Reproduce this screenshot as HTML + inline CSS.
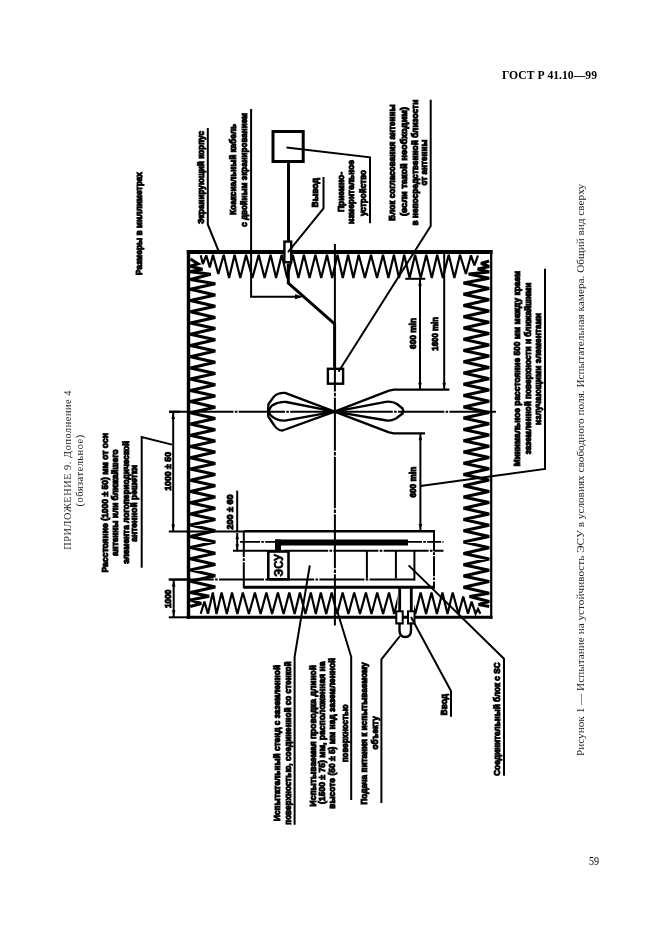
<!DOCTYPE html>
<html><head><meta charset="utf-8"><style>
html,body{margin:0;padding:0;background:#fff;width:661px;height:936px;overflow:hidden;position:relative}
.lb{font-family:"Liberation Sans",sans-serif;font-weight:bold;stroke:#000;stroke-width:0.95}
svg{will-change:transform}
.lr{font-family:"Liberation Sans",sans-serif;font-weight:bold;stroke:#000;stroke-width:0.6}
.sr{font-family:"Liberation Serif",serif;fill:#222}
.sb{font-family:"Liberation Serif",serif;font-weight:bold}
</style></head><body>
<svg width="661" height="936" viewBox="0 0 661 936" style="position:absolute;left:0;top:0">
<g stroke="#000" fill="none" stroke-linecap="butt" stroke-linejoin="miter">
<line x1="186.8" y1="252.0" x2="492.6" y2="252.0" stroke-width="3.8" />
<line x1="188.5" y1="250.2" x2="188.5" y2="618.7" stroke-width="3.4" />
<line x1="491.2" y1="250.2" x2="491.2" y2="618.7" stroke-width="2.2" />
<line x1="186.8" y1="617.2" x2="492.6" y2="617.2" stroke-width="3.0" />
<polyline points="200.7,255.3 202.9,264.0 206.2,255.3 209.8,267.4 213.0,254.8 218.3,274.0 223.7,254.8 229.1,278.0 234.6,254.8 240.3,278.0 246.1,254.8 252.4,278.0 258.7,254.8 264.6,278.0 270.6,254.8 276.1,278.0 281.7,254.8 287.2,278.0 292.8,254.8 298.4,278.0 303.9,254.8 309.6,278.0 315.4,254.8 321.2,278.0 327.0,254.8 332.2,278.0 337.5,254.8 342.8,278.0 348.1,254.8 353.4,278.0 358.7,254.8 364.9,278.0 371.0,254.8 377.0,278.0 383.0,254.8 388.4,278.0 393.9,254.8 399.0,278.0 404.2,254.8 409.6,278.0 415.1,254.8 420.7,278.0 426.3,254.8 431.8,278.0 437.2,254.8 442.9,278.0 448.7,254.8 454.4,278.0 460.0,254.8 465.9,274.0 471.0,255.3 474.4,265.5 478.0,255.5" stroke-width="2.2" fill="none" stroke-linejoin="miter" stroke-miterlimit="3"/>
<polyline points="200.7,613.7 204.4,601.6 208.0,613.7 212.8,592.5 216.5,614.0 221.6,592.5 226.8,614.0 232.0,592.5 237.4,614.0 242.8,592.5 248.9,614.0 254.9,592.5 260.6,614.0 266.4,592.5 272.1,614.0 277.9,592.5 283.6,614.0 289.3,592.5 294.6,614.0 299.9,592.5 305.4,614.0 310.8,592.5 315.8,614.0 320.8,592.5 326.2,614.0 331.7,592.5 337.1,614.0 342.6,592.5 348.4,614.0 354.2,592.5 360.0,614.0 365.9,592.5 371.5,614.0 377.2,592.5 383.1,614.0 389.0,592.5 394.2,614.0 399.5,592.5 404.8,614.0 410.0,592.5 415.3,614.0 420.6,592.5 426.1,614.0 431.5,592.5 436.9,614.0 442.4,592.5 447.5,614.0 452.7,592.5 458.6,614.0 463.2,596.5 468.0,613.7 471.6,601.6 475.6,613.7 478.0,608.9 480.4,613.7" stroke-width="2.2" fill="none" stroke-linejoin="miter" stroke-miterlimit="3"/>
<polyline points="190.3,259.0 198.0,263.7 190.3,266.2 202.5,269.2 190.3,271.6 210.7,274.3 190.3,279.5 215.3,283.7 190.3,289.3 215.3,294.9 190.3,300.5 215.3,306.2 190.3,311.8 215.3,317.4 190.3,323.0 215.3,328.6 190.3,334.2 215.3,339.8 190.3,345.4 215.3,351.1 190.3,356.7 215.3,362.3 190.3,367.9 215.3,373.5 190.3,379.1 215.3,384.8 190.3,390.4 215.3,396.0 190.3,401.6 215.3,407.2 190.3,412.8 215.3,418.5 190.3,424.1 215.3,429.7 190.3,435.3 215.3,440.9 190.3,446.5 215.3,452.1 190.3,457.7 215.3,463.4 190.3,469.0 215.3,474.6 190.3,480.2 215.3,485.8 190.3,491.4 215.3,497.1 190.3,502.7 215.3,508.3 190.3,513.9 215.3,519.5 190.3,525.1 215.3,530.8 190.3,536.4 215.3,542.0 190.3,547.6 215.3,553.2 190.3,558.8 215.3,564.4 190.3,570.0 215.3,575.7 190.3,581.3 215.3,586.9 190.3,592.5 209.2,596.2 190.3,600.0 201.3,603.4 190.3,606.5" stroke-width="3.1" fill="none" stroke-linejoin="miter" stroke-miterlimit="3"/>
<polyline points="489.2,261.0 481.0,263.4 489.2,266.5 477.7,268.9 489.2,272.0 468.6,274.0 489.2,278.2 463.5,282.9 489.2,288.5 463.5,294.2 489.2,299.8 463.5,305.4 489.2,311.0 463.5,316.7 489.2,322.3 463.5,328.0 489.2,333.6 463.5,339.3 489.2,344.9 463.5,350.5 489.2,356.1 463.5,361.8 489.2,367.4 463.5,373.1 489.2,378.7 463.5,384.3 489.2,389.9 463.5,395.6 489.2,401.2 463.5,406.9 489.2,412.5 463.5,418.1 489.2,423.7 463.5,429.4 489.2,435.0 463.5,440.7 489.2,446.3 463.5,452.0 489.2,457.6 463.5,463.2 489.2,468.8 463.5,474.5 489.2,480.1 463.5,485.8 489.2,491.4 463.5,497.0 489.2,502.6 463.5,508.3 489.2,513.9 463.5,519.6 489.2,525.2 463.5,530.8 489.2,536.4 463.5,542.1 489.2,547.7 463.5,553.4 489.2,559.0 463.5,564.7 489.2,570.3 463.5,575.9 489.2,581.5 463.5,587.2 489.2,593.2 469.5,596.5 489.2,601.5 478.6,604.4 489.2,606.5" stroke-width="3.1" fill="none" stroke-linejoin="miter" stroke-miterlimit="3"/>
<line x1="334.9" y1="244.0" x2="334.9" y2="625.4" stroke-width="2.0" />
<line x1="169.0" y1="411.7" x2="496.0" y2="411.7" stroke-width="2.0" />
<rect x="332.9" y="334.5" width="4" height="1.3" fill="#fff" stroke="none"/>
<rect x="332.9" y="339.3" width="4" height="1.3" fill="#fff" stroke="none"/>
<rect x="332.9" y="391.5" width="4" height="1.3" fill="#fff" stroke="none"/>
<rect x="332.9" y="396.3" width="4" height="1.3" fill="#fff" stroke="none"/>
<rect x="332.9" y="450.7" width="4" height="1.3" fill="#fff" stroke="none"/>
<rect x="332.9" y="455.5" width="4" height="1.3" fill="#fff" stroke="none"/>
<rect x="332.9" y="508.2" width="4" height="1.3" fill="#fff" stroke="none"/>
<rect x="332.9" y="513.0" width="4" height="1.3" fill="#fff" stroke="none"/>
<rect x="332.9" y="568.2" width="4" height="1.3" fill="#fff" stroke="none"/>
<rect x="332.9" y="573.0" width="4" height="1.3" fill="#fff" stroke="none"/>
<rect x="233.5" y="409.7" width="1.3" height="4" fill="#fff" stroke="none"/>
<rect x="237.4" y="409.7" width="1.3" height="4" fill="#fff" stroke="none"/>
<rect x="285.0" y="409.7" width="1.3" height="4" fill="#fff" stroke="none"/>
<rect x="288.9" y="409.7" width="1.3" height="4" fill="#fff" stroke="none"/>
<rect x="392.8" y="409.7" width="1.3" height="4" fill="#fff" stroke="none"/>
<rect x="396.7" y="409.7" width="1.3" height="4" fill="#fff" stroke="none"/>
<rect x="444.3" y="409.7" width="1.3" height="4" fill="#fff" stroke="none"/>
<rect x="448.2" y="409.7" width="1.3" height="4" fill="#fff" stroke="none"/>
<rect x="273.0" y="131.5" width="30.2" height="30.0" stroke-width="3.0" fill="none" />
<polyline points="286.5,147.4 370.0,157.3 370.0,223.2" stroke-width="2.0" fill="none" />
<line x1="288.5" y1="163.0" x2="288.5" y2="241.0" stroke-width="3.0" />
<rect x="284.4" y="241.6" width="6.8" height="20.6" stroke-width="2.4" fill="#fff"/>
<polyline points="288.3,263.4 288.3,283.0 334.6,324.0 334.6,367.6" stroke-width="3.0" fill="none" />
<polyline points="323.5,177.0 323.5,208.5 288.0,252.2" stroke-width="2.0" fill="none" />
<polyline points="207.8,128.0 207.8,224.5 218.4,250.5" stroke-width="2.0" fill="none" />
<polyline points="251.1,109.0 251.1,296.8 297.0,296.8" stroke-width="2.0" fill="none" />
<polygon points="303.5,296.8 295,294.3 295,299.3" fill="#000" stroke="none"/>
<polyline points="430.7,99.7 430.7,226.0 338.5,371.8" stroke-width="2.0" fill="none" />
<rect x="327.9" y="368.8" width="15.2" height="14.9" stroke-width="2.4" fill="none" />
<path d="M334.6,411.6 L285,392.9 Q278,392.6 274,396.5 L268.5,404 Q267.6,410.5 268.3,416.5 L274,425 Q277.5,430.5 282.5,430.5 Z" stroke-width="2.3" fill="none" stroke-linejoin="round"/>
<path d="M334.6,411.6 L286.2,402 Q279,401.5 272,405.5 Q267.5,410.5 270,414.5 Q275,420.7 285,420.7 Z" stroke-width="2.3" fill="none" stroke-linejoin="round"/>
<polyline points="334.6,411.6 389.0,390.6 394.0,389.7 449.4,389.7" stroke-width="2.3" fill="none" stroke-linejoin="round"/>
<polyline points="334.6,411.6 389.0,432.4 394.0,433.3 425.0,433.3" stroke-width="2.3" fill="none" stroke-linejoin="round"/>
<path d="M334.6,411.6 L385.7,401.8 Q392,400.8 397,404 L402.6,408.5 Q404,411 402.6,413.5 L396,418.5 Q391,421 386.9,420.5 Z" stroke-width="2.3" fill="none" stroke-linejoin="round"/>
<polygon points="334.6,411.6 346,407.5 346,415.7" fill="#000" stroke="none"/>
<polygon points="334.6,411.6 323,407.5 323,415.7" fill="#000" stroke="none"/>
<line x1="405.3" y1="278.8" x2="425.3" y2="278.8" stroke-width="2.0" />
<line x1="420.0" y1="278.8" x2="420.0" y2="389.7" stroke-width="2.0" />
<polygon points="420,279.8 418.2,285.8 421.8,285.8" fill="#000" stroke="none"/>
<polygon points="420,388.7 418.2,382.7 421.8,382.7" fill="#000" stroke="none"/>
<line x1="444.2" y1="253.0" x2="444.2" y2="389.7" stroke-width="2.0" />
<polygon points="444.2,388.7 442.4,382.7 446.0,382.7" fill="#000" stroke="none"/>
<line x1="420.4" y1="433.3" x2="420.4" y2="530.3" stroke-width="2.0" />
<polygon points="420.4,434.3 418.59999999999997,440.3 422.2,440.3" fill="#000" stroke="none"/>
<polygon points="420.4,530 418.59999999999997,524 422.2,524" fill="#000" stroke="none"/>
<polyline points="420.4,486.0 545.0,469.0 545.0,268.8" stroke-width="2.0" fill="none" />
<line x1="169.0" y1="411.7" x2="180.0" y2="411.7" stroke-width="2.0" />
<line x1="173.2" y1="412.0" x2="173.2" y2="531.4" stroke-width="2.0" />
<polygon points="173.2,413 171.39999999999998,419 175.0,419" fill="#000" stroke="none"/>
<polygon points="173.2,530.5 171.39999999999998,524.5 175.0,524.5" fill="#000" stroke="none"/>
<polyline points="141.7,567.7 141.7,437.0 172.0,444.6" stroke-width="2.0" fill="none" />
<line x1="168.8" y1="531.4" x2="243.8" y2="531.4" stroke-width="2.0" />
<line x1="173.7" y1="579.6" x2="173.7" y2="617.3" stroke-width="2.0" />
<polygon points="173.7,580.6 171.89999999999998,586.6 175.5,586.6" fill="#000" stroke="none"/>
<polygon points="173.7,616.3 171.89999999999998,610.3 175.5,610.3" fill="#000" stroke="none"/>
<line x1="168.8" y1="579.6" x2="188.0" y2="579.6" stroke-width="2.0" />
<line x1="168.8" y1="617.3" x2="188.0" y2="617.3" stroke-width="2.0" />
<line x1="237.2" y1="490.6" x2="237.2" y2="531.0" stroke-width="2.0" />
<line x1="237.2" y1="533.0" x2="237.2" y2="550.6" stroke-width="2.0" />
<polygon points="237.2,534 235.39999999999998,539 239.0,539" fill="#000" stroke="none"/>
<polygon points="237.2,549.5 235.39999999999998,544.5 239.0,544.5" fill="#000" stroke="none"/>
<line x1="243.8" y1="531.2" x2="435.0" y2="531.2" stroke-width="2.6" />
<line x1="243.8" y1="587.2" x2="435.0" y2="587.2" stroke-width="3.0" />
<line x1="243.8" y1="531" x2="243.8" y2="588.5" stroke-width="2" stroke-dasharray="26 1.3 2.6 1.3"/>
<line x1="434" y1="531" x2="434" y2="588.5" stroke-width="2" stroke-dasharray="20 1.3 2.6 1.3"/>
<rect x="275" y="539.5" width="133" height="6" fill="#000" stroke="none"/>
<rect x="275" y="539.5" width="6" height="11.5" fill="#000" stroke="none"/>
<line x1="240" y1="541.8" x2="275" y2="541.8" stroke-width="1.8" stroke-dasharray="20 1.3 2.6 1.3"/>
<line x1="408" y1="541.8" x2="443.5" y2="541.8" stroke-width="1.8" stroke-dasharray="14 1.3 2.6 1.3"/>
<line x1="233" y1="550.8" x2="443.5" y2="550.8" stroke-width="2" stroke-dasharray="45 1.3 2.6 1.3"/>
<rect x="268.3" y="551.5" width="20.2" height="27.8" stroke-width="2.6" fill="none" />
<line x1="366.9" y1="551.0" x2="366.9" y2="578.5" stroke-width="2.0" />
<line x1="395.9" y1="551.0" x2="395.9" y2="578.5" stroke-width="2.0" />
<line x1="414.4" y1="551.0" x2="414.4" y2="580.5" stroke-width="2.0" />
<line x1="168.8" y1="579.6" x2="415.4" y2="579.6" stroke-width="2" stroke-dasharray="45 1.3 2.6 1.3"/>
<rect x="397.5" y="589" width="16.5" height="26" fill="#fff" stroke="none"/>
<line x1="399.7" y1="587.0" x2="399.7" y2="612.0" stroke-width="2.8" />
<line x1="411.3" y1="587.0" x2="411.3" y2="612.0" stroke-width="2.8" />
<rect x="396.3" y="611.3" width="6.4" height="12.2" fill="#fff" stroke-width="2"/>
<rect x="408.0" y="611.3" width="6.5" height="12.2" fill="#fff" stroke-width="2"/>
<path d="M399.5,622.6 L399.5,630 Q399.5,637 405.3,637 Q411,637 411,630 L411,622.6" stroke-width="2.4" fill="none"/>
<polyline points="400.0,636.0 381.4,659.4 381.4,803.0" stroke-width="2.0" fill="none" />
<polyline points="411.0,617.0 451.0,691.0 451.0,716.8" stroke-width="2.0" fill="none" />
<polyline points="408.6,565.4 504.0,658.7 504.0,775.8" stroke-width="2.0" fill="none" />
<polyline points="309.8,565.4 294.6,656.8 294.6,824.8" stroke-width="2.0" fill="none" />
<polyline points="337.0,610.2 351.2,656.8 351.2,800.0" stroke-width="2.0" fill="none" />
</g>
<g fill="#000">
<text class="lb" transform="translate(141.5,275.0) rotate(-90)" font-size="9.0" textLength="103.0" lengthAdjust="spacingAndGlyphs">Размеры в миллиметрах</text>
<text class="lb" transform="translate(203.5,224.0) rotate(-90)" font-size="9.0" textLength="93.0" lengthAdjust="spacingAndGlyphs">Экранирующий корпус</text>
<text class="lb" transform="translate(236.0,214.7) rotate(-90)" font-size="9.0" textLength="90.7" lengthAdjust="spacingAndGlyphs">Коаксиальный кабель</text>
<text class="lb" transform="translate(246.8,226.8) rotate(-90)" font-size="9.0" textLength="113.8" lengthAdjust="spacingAndGlyphs">с двойным экранированием</text>
<text class="lb" transform="translate(318.4,207.4) rotate(-90)" font-size="9.0" textLength="29.4" lengthAdjust="spacingAndGlyphs">Вывод</text>
<text class="lb" transform="translate(343.8,212.0) rotate(-90)" font-size="9.0" textLength="40.0" lengthAdjust="spacingAndGlyphs">Приемно-</text>
<text class="lb" transform="translate(353.8,224.0) rotate(-90)" font-size="9.0" textLength="64.0" lengthAdjust="spacingAndGlyphs">измерительное</text>
<text class="lb" transform="translate(365.5,216.0) rotate(-90)" font-size="9.0" textLength="46.0" lengthAdjust="spacingAndGlyphs">устройство</text>
<text class="lb" transform="translate(394.8,220.7) rotate(-90)" font-size="9.0" textLength="116.2" lengthAdjust="spacingAndGlyphs">Блок согласования антенны</text>
<text class="lb" transform="translate(406.7,216.0) rotate(-90)" font-size="9.0" textLength="109.0" lengthAdjust="spacingAndGlyphs">(если такой необходим)</text>
<text class="lb" transform="translate(417.6,225.6) rotate(-90)" font-size="9.0" textLength="125.9" lengthAdjust="spacingAndGlyphs">в непосредственной близости</text>
<text class="lb" transform="translate(427.3,185.6) rotate(-90)" font-size="9.0" textLength="46.0" lengthAdjust="spacingAndGlyphs">от антенны</text>
<text class="lb" transform="translate(107.5,572.5) rotate(-90)" font-size="9.0" textLength="139.5" lengthAdjust="spacingAndGlyphs">Расстояние (1000 ± 50) мм от оси</text>
<text class="lb" transform="translate(118.0,556.0) rotate(-90)" font-size="9.0" textLength="106.6" lengthAdjust="spacingAndGlyphs">антенны или ближайшего</text>
<text class="lb" transform="translate(128.6,563.8) rotate(-90)" font-size="9.0" textLength="123.0" lengthAdjust="spacingAndGlyphs">элемента логопериодической</text>
<text class="lb" transform="translate(137.3,541.7) rotate(-90)" font-size="9.0" textLength="76.9" lengthAdjust="spacingAndGlyphs">антенной решетки</text>
<text class="lb" transform="translate(170.6,490.8) rotate(-90)" font-size="9.0" textLength="38.8" lengthAdjust="spacingAndGlyphs">1000 ± 50</text>
<text class="lb" transform="translate(233.4,529.5) rotate(-90)" font-size="9.0" textLength="35.1" lengthAdjust="spacingAndGlyphs">200 ± 60</text>
<text class="lb" transform="translate(170.7,608.0) rotate(-90)" font-size="9.0" textLength="18.5" lengthAdjust="spacingAndGlyphs">1000</text>
<text class="lb" transform="translate(416.2,349.0) rotate(-90)" font-size="9.0" textLength="31.0" lengthAdjust="spacingAndGlyphs">600 min</text>
<text class="lb" transform="translate(438.0,350.7) rotate(-90)" font-size="9.0" textLength="33.7" lengthAdjust="spacingAndGlyphs">1600 min</text>
<text class="lb" transform="translate(416.2,497.6) rotate(-90)" font-size="9.0" textLength="30.8" lengthAdjust="spacingAndGlyphs">600 min</text>
<text class="lb" transform="translate(520.0,466.3) rotate(-90)" font-size="9.0" textLength="195.5" lengthAdjust="spacingAndGlyphs">Минимальное расстояние 500 мм между краем</text>
<text class="lb" transform="translate(530.5,454.3) rotate(-90)" font-size="9.0" textLength="171.5" lengthAdjust="spacingAndGlyphs">заземленной поверхности и ближайшими</text>
<text class="lb" transform="translate(541.0,425.0) rotate(-90)" font-size="9.0" textLength="112.0" lengthAdjust="spacingAndGlyphs">излучающими элементами</text>
<text class="lb" transform="translate(279.9,821.0) rotate(-90)" font-size="9.0" textLength="156.0" lengthAdjust="spacingAndGlyphs">Испытательный стенд с заземленной</text>
<text class="lb" transform="translate(291.0,824.8) rotate(-90)" font-size="9.0" textLength="163.4" lengthAdjust="spacingAndGlyphs">поверхностью, соединенной со стенкой</text>
<text class="lb" transform="translate(315.5,806.4) rotate(-90)" font-size="9.0" textLength="141.4" lengthAdjust="spacingAndGlyphs">Испытываемая проводка длиной</text>
<text class="lb" transform="translate(325.3,804.0) rotate(-90)" font-size="9.0" textLength="142.6" lengthAdjust="spacingAndGlyphs">(1500 ± 75) мм, расположенная на</text>
<text class="lb" transform="translate(335.2,808.8) rotate(-90)" font-size="9.0" textLength="151.1" lengthAdjust="spacingAndGlyphs">высоте (50 ± 5) мм над заземленной</text>
<text class="lb" transform="translate(347.5,762.2) rotate(-90)" font-size="9.0" textLength="57.8" lengthAdjust="spacingAndGlyphs">поверхностью</text>
<text class="lb" transform="translate(366.8,804.6) rotate(-90)" font-size="9.0" textLength="142.2" lengthAdjust="spacingAndGlyphs">Подача питания к испытываемому</text>
<text class="lb" transform="translate(377.5,749.4) rotate(-90)" font-size="9.0" textLength="33.1" lengthAdjust="spacingAndGlyphs">объекту</text>
<text class="lb" transform="translate(447.0,715.3) rotate(-90)" font-size="9.0" textLength="21.3" lengthAdjust="spacingAndGlyphs">Ввод</text>
<text class="lb" transform="translate(500.0,775.8) rotate(-90)" font-size="9.0" textLength="113.4" lengthAdjust="spacingAndGlyphs">Соединительный блок с SC</text>
<text class="lr" transform="translate(282.8,576.8) rotate(-90)" font-size="12.0" textLength="22.8" lengthAdjust="spacingAndGlyphs">ЭСУ</text>
<text class="sr" transform="translate(583.5,756.0) rotate(-90)" font-size="11.2" textLength="572.0" lengthAdjust="spacing">Рисунок 1 — Испытание на устойчивость ЭСУ в условиях свободного поля. Испытательная камера. Общий вид сверху</text>
<text class="sr" transform="translate(71.0,549.8) rotate(-90)" font-size="10.2" textLength="159.2" lengthAdjust="spacing">ПРИЛОЖЕНИЕ 9. Дополнение 4</text>
<text class="sr" transform="translate(82.5,506.5) rotate(-90)" font-size="10.5" textLength="71.7" lengthAdjust="spacing">(обязательное)</text>
<text class="sb" x="502" y="78.6" font-size="12.6" textLength="95" lengthAdjust="spacingAndGlyphs">ГОСТ Р 41.10—99</text>
<text class="sr" style="fill:#000" x="589" y="864.5" font-size="12" textLength="10" lengthAdjust="spacingAndGlyphs">59</text>
</g>
</svg>
</body></html>
